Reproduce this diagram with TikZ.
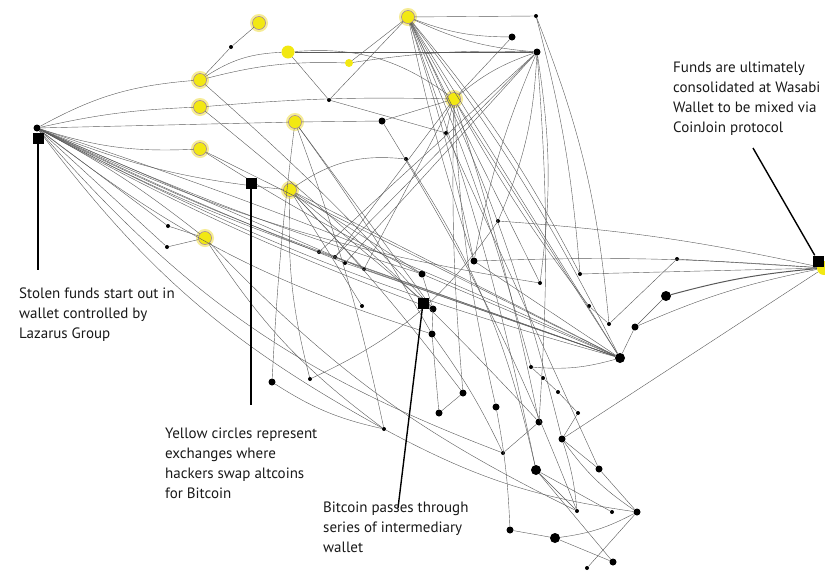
\documentclass[tikz,border=0pt]{standalone}
\usepackage{fontspec}
\setmainfont{PT Sans}
\begin{document}
\begin{tikzpicture}[x=1pt,y=-1pt,
  e/.style={draw=black!65, line width=0.4pt},
  yel/.style={circle, inner sep=0pt, minimum size=13pt, fill={rgb,255:red,242;green,232;blue,18}, draw={rgb,255:red,150;green,120;blue,170}, line width=0.5pt, preaction={draw={rgb,255:red,246;green,236;blue,150}, line width=5pt}},
  yelp/.style={circle, inner sep=0pt, minimum size=#1, fill={rgb,255:red,242;green,232;blue,18}},
  sd/.style={circle, inner sep=0pt, minimum size=4pt, fill=black},
  md/.style={circle, inner sep=0pt, minimum size=7pt, fill=black},
  bd/.style={circle, inner sep=0pt, minimum size=10pt, fill=black},
  sq/.style={rectangle, inner sep=0pt, minimum size=11pt, fill=black},
  ann/.style={draw=black, line width=1.4pt},
  txt/.style={anchor=north west, align=left, font=\fontsize{15}{19.8}\selectfont, inner sep=0pt, text=black!90}
]
\useasboundingbox (0,0) rectangle (825,571);
% ---- nodes ----
\node[md] (L) at (37,128) {};
\node[yel] (Y1) at (259,23) {};
\node[yelp=13pt] (Y2) at (288,52) {};
\node[yel] (Y3) at (200,80) {};
\node[yel] (Y4) at (200,107) {};
\node[yel] (Y5) at (295,122) {};
\node[yel] (Y6) at (200,149) {};
\node[yel] (Y7) at (290,190) {};
\node[yel] (Y8) at (205,238) {};
\node[yel] (Y9) at (408,17) {};
\node[yelp=8pt] (Y10) at (349,63) {};
\node[yel] (Y11) at (454,99) {};
\node[sd] (a1) at (231,47) {};
\node[sd] (a2) at (329,100) {};
\node[md] (a3) at (382,121) {};
\node[sd] (a4) at (536,16) {};
\node[md] (a5) at (512,37) {};
\node[md] (a6) at (537,52) {};
\node[sd] (a7) at (446,133) {};
\node[sd] (a8) at (406,159) {};
\node[sd] (a9) at (498,221) {};
\node[sd] (a10) at (168,226) {};
\node[sd] (a11) at (167,247) {};
\node[sd] (b1) at (319,252) {};
\node[sd] (b2) at (335,257) {};
\node[sd] (b3) at (345,263) {};
\node[sd] (b4) at (364,269) {};
\node[md] (b5) at (422,274) {};
\node[md] (b6) at (474,261) {};
\node[sd] (b7) at (580,274) {};
\node[sd] (b8) at (540,283) {};
\node[md] (b9) at (433,309) {};
\node[md] (b10) at (432,334) {};
\node[sd] (b11) at (362,306) {};
\node[sd] (b12) at (589,306) {};
\node[sd] (b13) at (609,324) {};
\node[sd] (b14) at (677,259) {};
\node[bd] (b15) at (666,296) {};
\node[md] (b16) at (635,327) {};
\node[bd] (H) at (620,358) {};
\node[sd] (c1) at (531,367) {};
\node[sd] (c2) at (543,378) {};
\node[sd] (c3) at (558,392) {};
\node[sd] (c4) at (578,413) {};
\node[md] (c5) at (463,393) {};
\node[md] (c6) at (439,413) {};
\node[md] (c7) at (496,407) {};
\node[md] (c8) at (272,382) {};
\node[sd] (c9) at (310,379) {};
\node[sd] (c10) at (384,429) {};
\node[md] (c11) at (539,422) {};
\node[md] (c12) at (562,439) {};
\node[sd] (c13) at (503,453) {};
\node[bd] (c14) at (536,470) {};
\node[md] (c15) at (599,469) {};
\node[sd] (c16) at (577,511) {};
\node[sd] (c17) at (612,512) {};
\node[md] (c18) at (637,512) {};
\node[md] (c19) at (510,530) {};
\node[bd] (c20) at (555,538) {};
\node[md] (c21) at (613,562) {};
\node[sd] (c22) at (587,568) {};
\node[yelp=14pt] (W) at (824,268) {};
% ---- edges ----
\draw[e] (L) to[bend left=12] (Y3);
\draw[e] (L) to[bend left=5] (Y4);
\draw[e] (L) to (Y5);
\draw[e] (L) to[bend right=10] (Y6);
\draw[e] (L) to[bend right=8] (Y7);
\draw[e] (L) to (a10);
\draw[e] (L) to (a11);
\draw[e] (L) to[bend left=5] (Y8);
\draw[e] (L) to[bend right=4] (b1);
\draw[e] (L) to[bend right=3] (b2);
\draw[e] (L) to[bend right=2] (b3);
\draw[e] (L) to (b4);
\draw[e] (L) to[bend right=3] (b5);
\draw[e] (L) to[bend right=4] (b9);
\draw[e] (L) to[bend right=6] (H);
\draw[e] (L) to[bend left=3] (H);
\draw[e] (L) to[bend right=12] (c10);
\draw[e] (L) to[bend right=14] (c13);
\draw[e] (L) to[bend right=10] (b10);
\draw[e] (L) to[bend right=8] (b8);
\draw[e] (Y3) to (a1);
\draw[e] (a1) to (Y1);
\draw[e] (Y3) to[bend left=15] (Y2);
\draw[e] (Y3) to[bend left=8] (Y10);
\draw[e] (Y3) to[bend left=3] (b9);
\draw[e] (Y4) to[bend left=3] (Y11);
\draw[e] (Y4) to[bend left=4] (c11);
\draw[e] (Y6) to[bend right=3] (b5);
\draw[e] (Y6) to (H);
\draw[e] (Y2) to (a6);
\draw[e] (Y2) to (a2);
\draw[e] (Y2) to[bend left=20] (Y11);
\draw[e] (Y10) to (Y9);
\draw[e] (a2) to (Y9);
\draw[e] (Y10) to[bend left=5] (a6);
\draw[e] (a2) to (a7);
\draw[e] (Y9) to (a4);
\draw[e] (Y9) to[bend right=10] (a5);
\draw[e] (Y9) to[bend right=10] (a6);
\draw[e] (Y9) to (Y11);
\draw[e] (Y9) to[bend right=3] (b6);
\draw[e] (Y9) to[bend left=3] (b6);
\draw[e] (Y9) to[bend left=4] (c14);
\draw[e] (Y9) to[bend left=5] (H);
\draw[e] (Y9) to (H);
\draw[e] (Y9) to[bend left=6] (b7);
\draw[e] (Y9) to[bend left=6] (c12);
\draw[e] (Y9) to (b8);
\draw[e] (Y9) to[bend left=4] (c1);
\draw[e] (a5) to (Y11);
\draw[e] (a6) to[bend right=10] (Y11);
\draw[e] (a6) to (b1);
\draw[e] (a6) to (b2);
\draw[e] (a6) to (b3);
\draw[e] (a6) to[bend left=10] (a9);
\draw[e] (a6) to[bend right=6] (b6);
\draw[e] (a6) to[bend left=8] (b8);
\draw[e] (a6) to[bend left=4] (c11);
\draw[e] (a4) to[bend left=5] (b7);
\draw[e] (a4) to[bend left=8] (b13);
\draw[e] (Y11) to (a3);
\draw[e] (Y11) to (a7);
\draw[e] (Y11) to (b4);
\draw[e] (Y11) to (b2);
\draw[e] (Y11) to[bend right=5] (c7);
\draw[e] (Y11) to[bend left=3] (c11);
\draw[e] (Y11) to[bend right=4] (b12);
\draw[e] (Y11) to (H);
\draw[e] (Y11) to[bend right=3] (c5);
\draw[e] (Y5) to (a3);
\draw[e] (Y5) to[bend right=2] (c8);
\draw[e] (Y5) to (b9);
\draw[e] (Y5) to[bend left=3] (b10);
\draw[e] (Y5) to[bend left=4] (c10);
\draw[e] (Y7) to[bend left=20] (a8);
\draw[e] (Y7) to[bend right=8] (c9);
\draw[e] (Y7) to (b5);
\draw[e] (Y7) to (H);
\draw[e] (Y7) to (b9);
\draw[e] (Y7) to (b4);
\draw[e] (Y7) to[bend left=3] (c5);
\draw[e] (Y7) to (b11);
\draw[e] (Y8) to (a10);
\draw[e] (Y8) to (a11);
\draw[e] (Y8) to[bend right=10] (c10);
\draw[e] (Y8) to[bend right=10] (c16);
\draw[e] (c9) to[bend right=15] (a9);
\draw[e] (b5) to (b9);
\draw[e] (b9) to (b10);
\draw[e] (b10) to[bend left=5] (c13);
\draw[e] (b1) to (H);
\draw[e] (b2) to (H);
\draw[e] (b3) to (H);
\draw[e] (b4) to (H);
\draw[e] (b5) to (H);
\draw[e] (b6) to (H);
\draw[e] (b6) to[bend left=3] (W);
\draw[e] (a9) to[bend left=4] (W);
\draw[e] (b7) to (W);
\draw[e] (b14) to (W);
\draw[e, line width=1pt] (b15) to[bend left=5] (W);
\draw[e] (b16) to (b15);
\draw[e] (H) to (b16);
\draw[e] (b16) to[bend left=6] (W);
\draw[e] (b12) to (b13);
\draw[e] (b13) to (b14);
\draw[e] (H) to[bend left=10] (c1);
\draw[e] (c1) to (c2);
\draw[e] (c2) to (c3);
\draw[e] (c3) to (c4);
\draw[e] (c6) to (c5);
\draw[e] (c6) to (b10);
\draw[e] (c12) to (W);
\draw[e] (c12) to (c15);
\draw[e] (c12) to[bend right=10] (c18);
\draw[e] (c12) to[bend left=6] (c16);
\draw[e] (c11) to (c13);
\draw[e] (c4) to (c12);
\draw[e] (c14) to (c17);
\draw[e] (c14) to (c21);
\draw[e] (c14) to (c16);
\draw[e] (c15) to (c18);
\draw[e] (c18) to[bend left=10] (c20);
\draw[e] (c19) to (c20);
\draw[e] (c20) to (c21);
\draw[e] (c18) to (c22);
\draw[e] (c10) to[bend right=10] (c18);
\draw[e] (c7) to[bend left=4] (c19);
\draw[e] (a8) to[bend left=10] (c14);
\draw[e] (c8) to[bend right=10] (c10);
\draw[e] (a7) to (c15);
\draw[e] (a3) to[bend left=5] (c16);
% ---- annotations ----
\node[sq] (s1) at (38,138) {};
\coordinate (s1e) at (38,270);
\draw[ann] (s1) -- (s1e);
\node[sq] (s2) at (251,183) {};
\coordinate (s2e) at (251,405);
\draw[ann] (s2) -- (s2e);
\node[sq] (s3) at (423,303) {};
\coordinate (s3e) at (398,508);
\draw[ann] (s3) -- (s3e);
\node[sq] (s4) at (818,261) {};
\coordinate (s4e) at (753,148);
\draw[ann] (s4e) -- (s4);
\node[txt] (t1) at (19,288) {Stolen funds start out in\\wallet controlled by\\Lazarus Group};
\node[txt] (t2) at (165,428) {Yellow circles represent\\exchanges where\\hackers swap altcoins\\for Bitcoin};
\node[txt] (t3) at (323,502) {Bitcoin passes through\\series of intermediary\\wallet};
\node[txt] (t4) at (673,62) {Funds are ultimately\\consolidated at Wasabi\\Wallet to be mixed via\\CoinJoin protocol};
\end{tikzpicture}
\end{document}
